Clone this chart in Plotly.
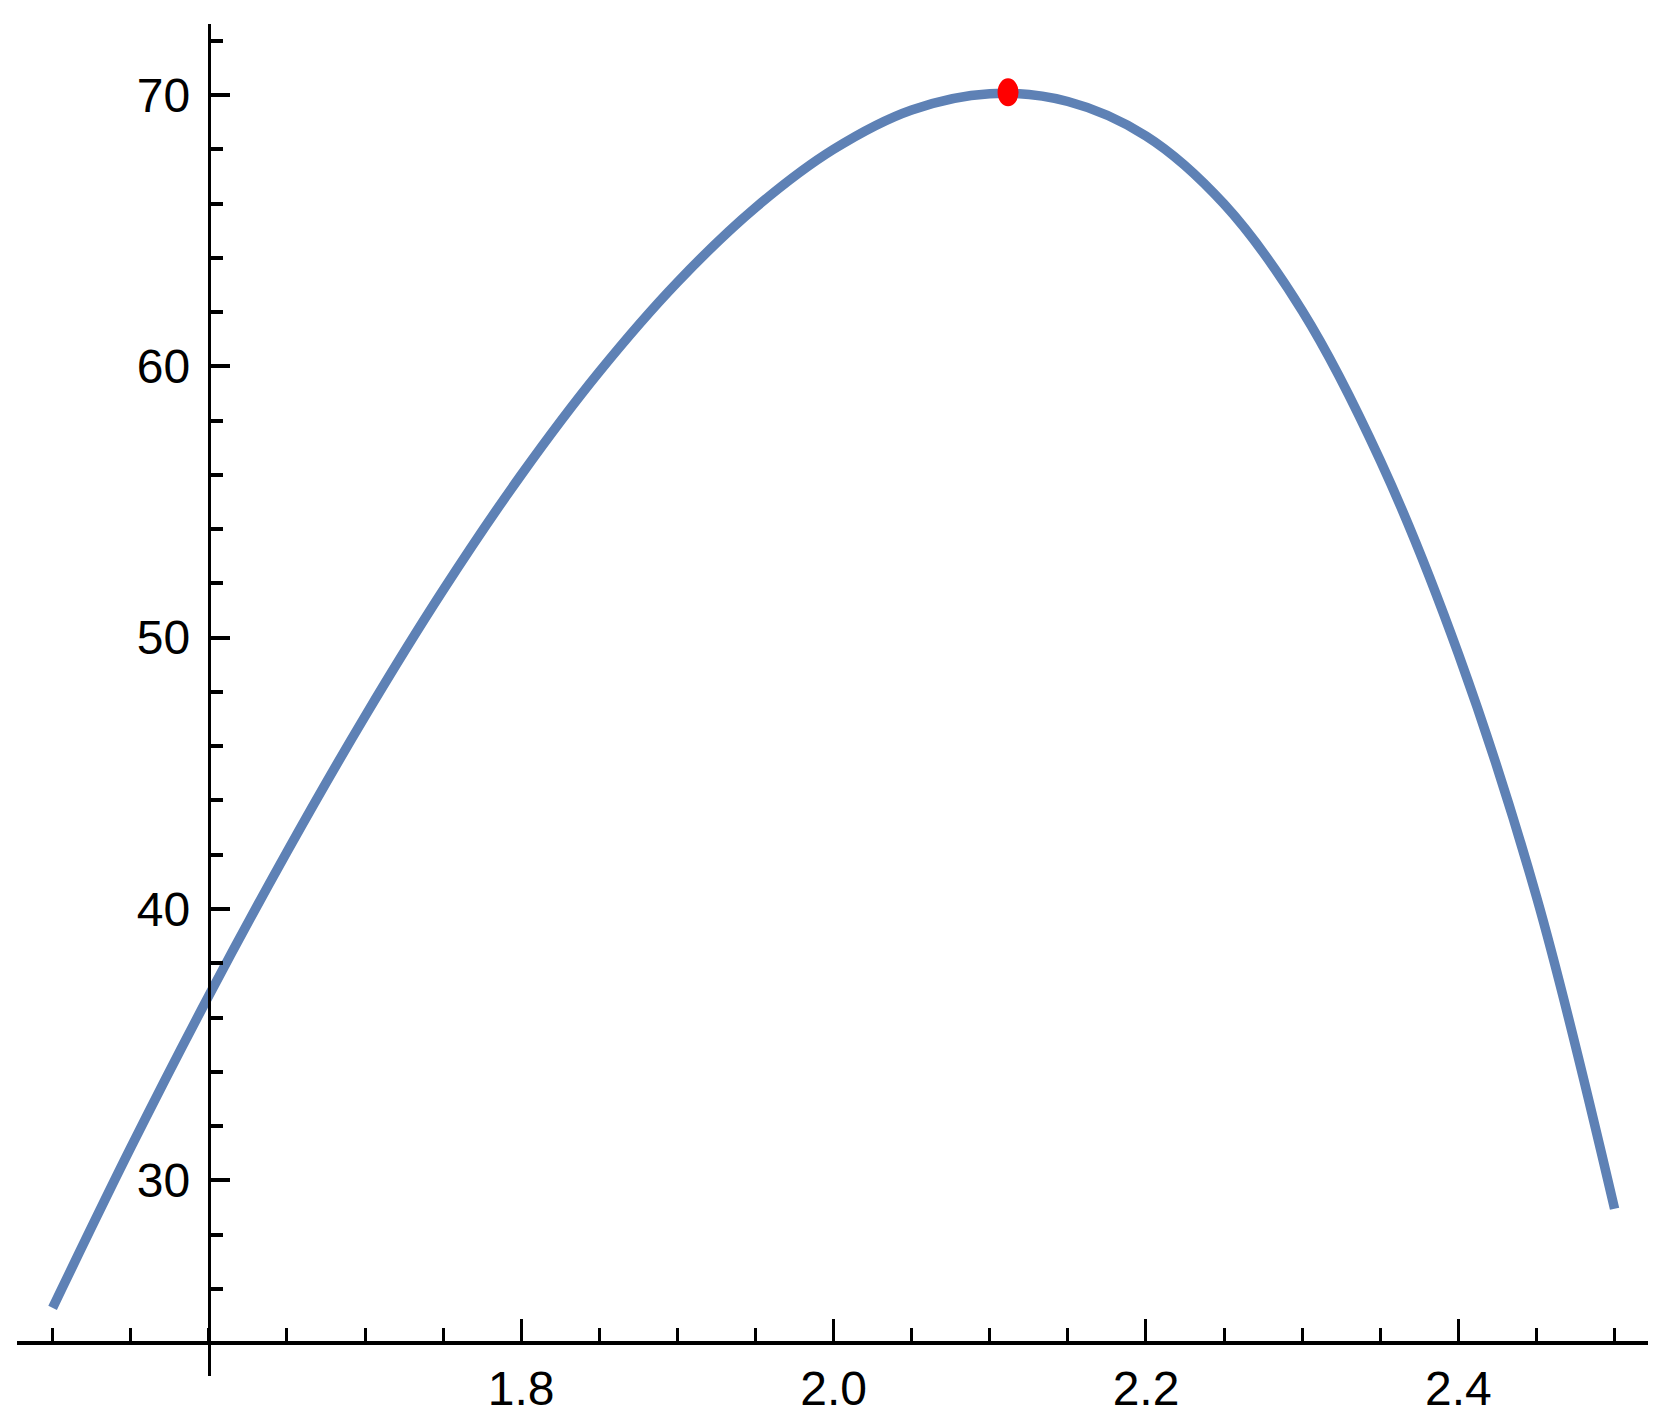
import plotly.graph_objects as go

# Curve values
x_vals = [1.50, 1.55, 1.60, 1.65, 1.70, 1.75, 1.80, 1.85, 1.90, 1.95, 2.00,
          2.05, 2.10, 2.15, 2.20, 2.25, 2.30, 2.35, 2.40, 2.45, 2.50]
y_vals = [25.3, 31.2, 36.8, 42.1, 47.1, 51.75, 56.0, 59.8, 63.1, 65.85,
          68.0, 69.45, 70.05, 69.76, 68.49, 65.98, 62.05, 56.53, 49.4,
          40.45, 28.95]

# Maximum point
peak_x = [2.1117]
peak_y = [70.1]

x_tickvals = [1.8, 2.0, 2.2, 2.4]
x_ticktext = ["1.8", "2.0", "2.2", "2.4"]
y_tickvals = [30, 40, 50, 60, 70]
y_ticktext = ["30", "40", "50", "60", "70"]

x_range = [1.4772, 2.5214]
y_range = [22.787, 72.617]
x_cross = 1.6   # where the y axis sits
y_cross = 24.0  # where the x axis sits

LINE_COLOR = "#5E81B5"
FONT = "Liberation Sans, Arial, Helvetica, sans-serif"

fig = go.Figure()
fig.add_trace(go.Scatter(
    x=x_vals, y=y_vals, mode="lines",
    line=dict(color=LINE_COLOR, width=9.5, shape="spline", smoothing=1.0),
    hoverinfo="skip", showlegend=False,
))

fig.add_shape(
    type="circle", xref="x", yref="y",
    xsizemode="pixel", ysizemode="pixel",
    xanchor=peak_x[0], yanchor=peak_y[0],
    x0=-10.5, x1=10.5, y0=-14, y1=14,
    fillcolor="#FF0000", line=dict(width=0), layer="above",
)

xpos = (y_cross - y_range[0]) / (y_range[1] - y_range[0])
ypos = (x_cross - x_range[0]) / (x_range[1] - x_range[0])

# page body has an 8px default margin, so the figure is offset by 8px
fig.update_layout(
    width=1643, height=1408,
    margin=dict(l=9, r=3, t=16, b=40, pad=0, autoexpand=False),
    paper_bgcolor="white", plot_bgcolor="white",
    showlegend=False,
    font=dict(family=FONT, size=48, color="black"),
    xaxis=dict(
        range=x_range, anchor="free", position=xpos, automargin=False,
        showgrid=False, zeroline=False,
        showline=True, linecolor="black", linewidth=4,
        tickmode="array", tickvals=x_tickvals, ticktext=x_ticktext,
        ticks="inside", ticklen=22, tickwidth=3, tickcolor="black",
        ticklabelstandoff=2,
        minor=dict(dtick=0.05, tick0=1.5, ticks="inside", ticklen=13,
                   tickwidth=3, tickcolor="black", showgrid=False),
        tickfont=dict(family=FONT, size=48, color="black"),
    ),
    yaxis=dict(
        range=y_range, anchor="free", position=ypos, automargin=False,
        showgrid=False, zeroline=False,
        showline=True, linecolor="black", linewidth=3,
        tickmode="array", tickvals=y_tickvals, ticktext=y_ticktext,
        ticks="inside", ticklen=19, tickwidth=4, tickcolor="black",
        ticklabelstandoff=8,
        minor=dict(dtick=2, tick0=24, ticks="inside", ticklen=12,
                   tickwidth=4, tickcolor="black", showgrid=False),
        tickfont=dict(family=FONT, size=48, color="black"),
    ),
)

fig.write_html("out.html")
